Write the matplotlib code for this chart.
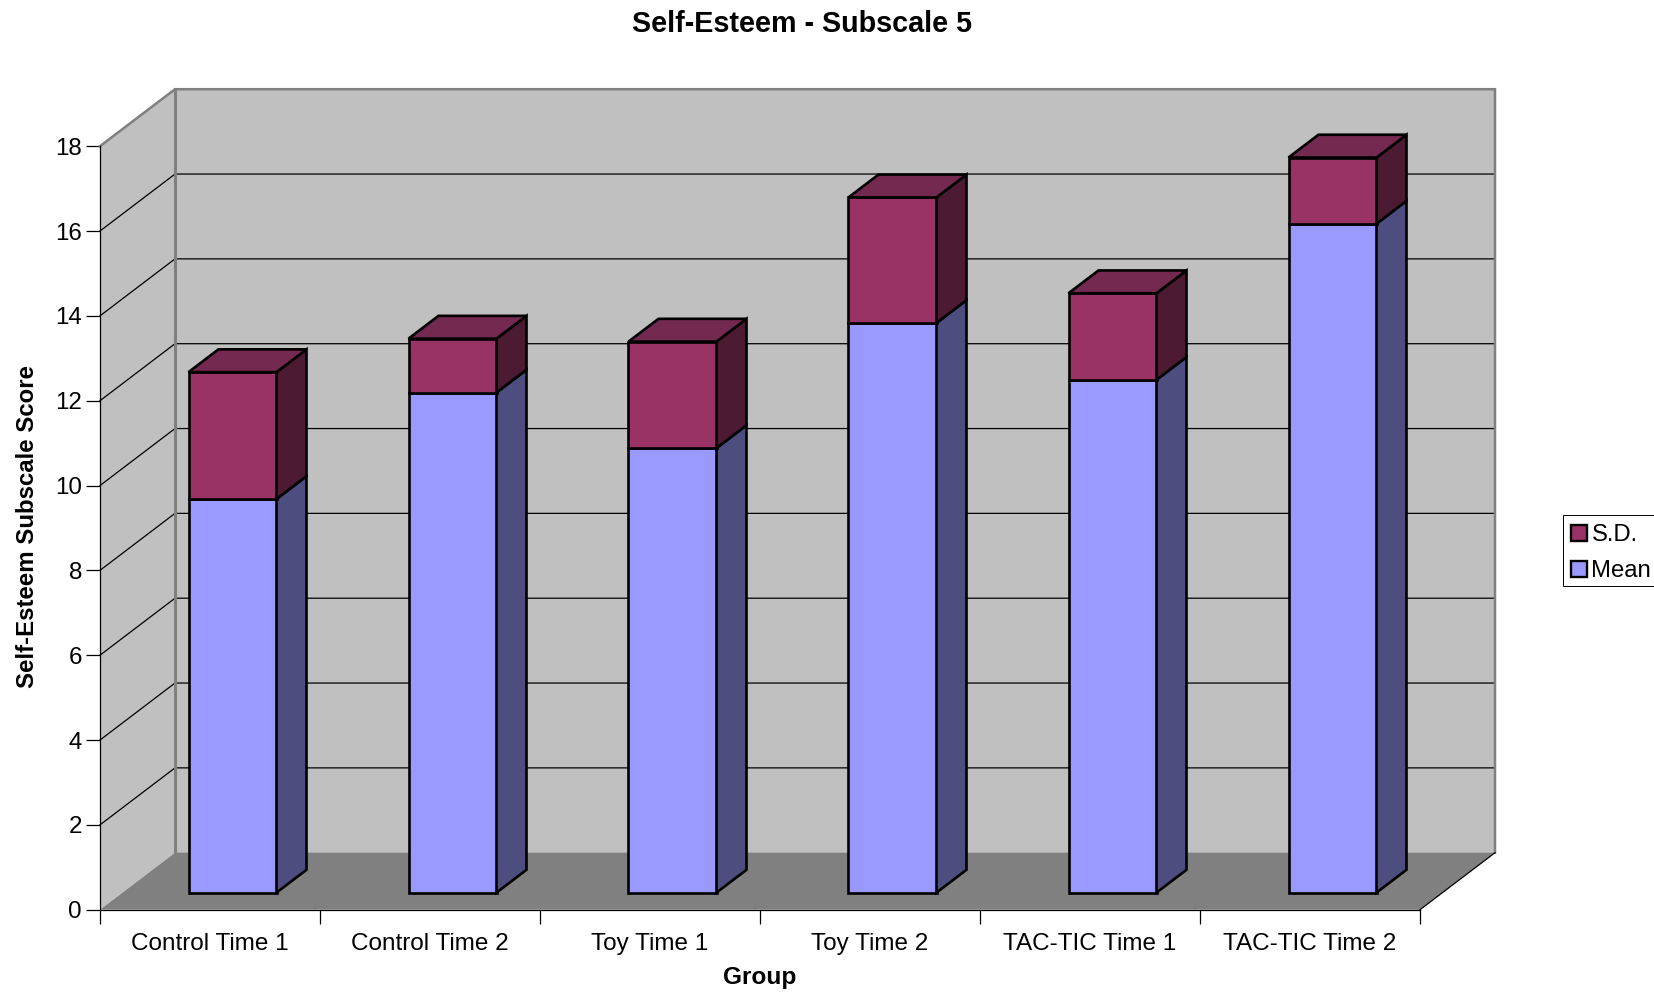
from matplotlib import pyplot as plt
from matplotlib.patches import Patch, Polygon, Rectangle

plt.rcParams['font.family'] = ['Liberation Sans', 'DejaVu Sans']

groups = ["Control Time 1", "Control Time 2", "Toy Time 1", "Toy Time 2",
          "TAC-TIC Time 1", "TAC-TIC Time 2"]
means = [9.28, 11.79, 10.48, 13.43, 12.09, 15.77]
sds = [2.99, 1.27, 2.51, 2.96, 2.04, 1.56]
y_ticks = [0, 2, 4, 6, 8, 10, 12, 14, 16, 18]

W, H = 1654, 992
BLUE, BLUE_SIDE = "#9999FF", "#4D4D80"
PLUM, PLUM_TOP, PLUM_SIDE = "#993366", "#732950", "#4D1A33"
# oblique depth of the box, in data units (categories, score)
DEPTH_X = 75 / 220
DEPTH_Y = 57 / 42.42
BAR_W = 0.4
BAR_NEAR, BAR_FAR = 0.3, 0.7


def proj(x, y, d=0.0):
    """Shift a data point back by depth d (0 = front, 1 = back wall)."""
    return (x + d * DEPTH_X, y + d * DEPTH_Y)


def face(ax, pts, color, edge="none", lw=0, z=1):
    ax.add_patch(Polygon(pts, closed=True, facecolor=color, edgecolor=edge,
                         linewidth=lw, joinstyle="miter", clip_on=False, zorder=z))


def draw_block(ax, x0, x1, y0, y1, front, side, top=None):
    edge = dict(edge="black", lw=1.9, z=5)
    face(ax, [proj(x0, y0, BAR_NEAR), proj(x1, y0, BAR_NEAR),
              proj(x1, y1, BAR_NEAR), proj(x0, y1, BAR_NEAR)], front, **edge)
    face(ax, [proj(x1, y0, BAR_NEAR), proj(x1, y0, BAR_FAR),
              proj(x1, y1, BAR_FAR), proj(x1, y1, BAR_NEAR)], side, **edge)
    if top:
        face(ax, [proj(x0, y1, BAR_NEAR), proj(x1, y1, BAR_NEAR),
                  proj(x1, y1, BAR_FAR), proj(x0, y1, BAR_FAR)], top, **edge)


fig = plt.figure(figsize=(W / 100, H / 100), dpi=100)
ax = fig.add_axes([100 / W, 1 - 909.7 / H, 1320 / W, 763.5 / H])
ax.set_xlim(0, len(groups))
ax.set_ylim(0, 18)
ax.patch.set_visible(False)

n = len(groups)
top = y_ticks[-1]

# walls and floor
face(ax, [proj(0, 0, 1), proj(n, 0, 1), proj(n, top, 1), proj(0, top, 1)], "#C0C0C0", z=0)
face(ax, [proj(0, 0), proj(0, 0, 1), proj(0, top, 1), proj(0, top)], "#C0C0C0", z=0)
face(ax, [proj(0, 0), proj(n, 0), proj(n, 0, 1), proj(0, 0, 1)], "#808080", z=0.5)

# gridlines run along the side wall and the back wall
for v in y_ticks[1:-1]:
    xs, ys = zip(proj(0, v), proj(0, v, 1), proj(n, v, 1))
    ax.plot(xs, ys, color="black", lw=0.9, clip_on=False, zorder=1)

# box outline
xs, ys = zip(proj(0, top), proj(0, top, 1), proj(n, top, 1), proj(n, 0, 1))
ax.plot(xs, ys, color="#808080", lw=1.8, clip_on=False, zorder=2, solid_joinstyle="miter")
xs, ys = zip(proj(0, 0, 1), proj(0, top, 1))
ax.plot(xs, ys, color="#808080", lw=2.2, clip_on=False, zorder=2)
xs, ys = zip(proj(n, 0), proj(n, 0, 1))
ax.plot(xs, ys, color="black", lw=0.9, clip_on=False, zorder=2)

for i, (m, s) in enumerate(zip(means, sds)):
    x0 = i + 0.5 - BAR_W / 2
    x1 = i + 0.5 + BAR_W / 2
    draw_block(ax, x0, x1, 0, m, BLUE, BLUE_SIDE)
    draw_block(ax, x0, x1, m, m + s, PLUM, PLUM_SIDE, PLUM_TOP)

for side in ["top", "right"]:
    ax.spines[side].set_visible(False)
for side in ["left", "bottom"]:
    ax.spines[side].set_linewidth(0.9)
    ax.spines[side].set_zorder(3)

ax.set_yticks(y_ticks)
ax.set_xticks(range(n + 1))
ax.set_xticks([i + 0.5 for i in range(n)], groups, minor=True)
ax.set_xticklabels([])
ax.tick_params(axis="both", which="major", length=10, width=0.9, labelsize=17.4)
ax.tick_params(axis="y", pad=3)
ax.tick_params(axis="x", which="minor", length=0, labelsize=17.5, pad=16.5)

fig.text(802 / W, 1 - 24.5 / H, "Self-Esteem - Subscale 5", ha="center", va="center",
         fontsize=20.7, fontweight="bold")
fig.text(760 / W, 1 - 977.5 / H, "Group", ha="center", va="center",
         fontsize=17.6, fontweight="bold")
fig.text(27.5 / W, 1 - 527 / H, "Self-Esteem Subscale Score", ha="center", va="center",
         rotation=90, fontsize=17.3, fontweight="bold")

# legend frame runs off the right edge of the figure
fig.add_artist(Rectangle((1563 / W, 1 - 586 / H), 110 / W, 71 / H, facecolor="white",
                         edgecolor="black", linewidth=0.7, transform=fig.transFigure,
                         zorder=-1))
handles = [Patch(facecolor=PLUM, edgecolor="black", linewidth=1.7, label="S.D."),
           Patch(facecolor=BLUE, edgecolor="black", linewidth=1.7, label="Mean")]
leg = ax.legend(handles=handles, loc="upper left", bbox_to_anchor=(1563 / W, 1 - 516 / H),
                bbox_transform=fig.transFigure, fontsize=17.2, frameon=False,
                borderaxespad=0, borderpad=0.35, handlelength=0.64, handleheight=0.64,
                handletextpad=0.2, labelspacing=0.58)
leg.set_zorder(10)

fig.savefig("out.png", dpi=100)
